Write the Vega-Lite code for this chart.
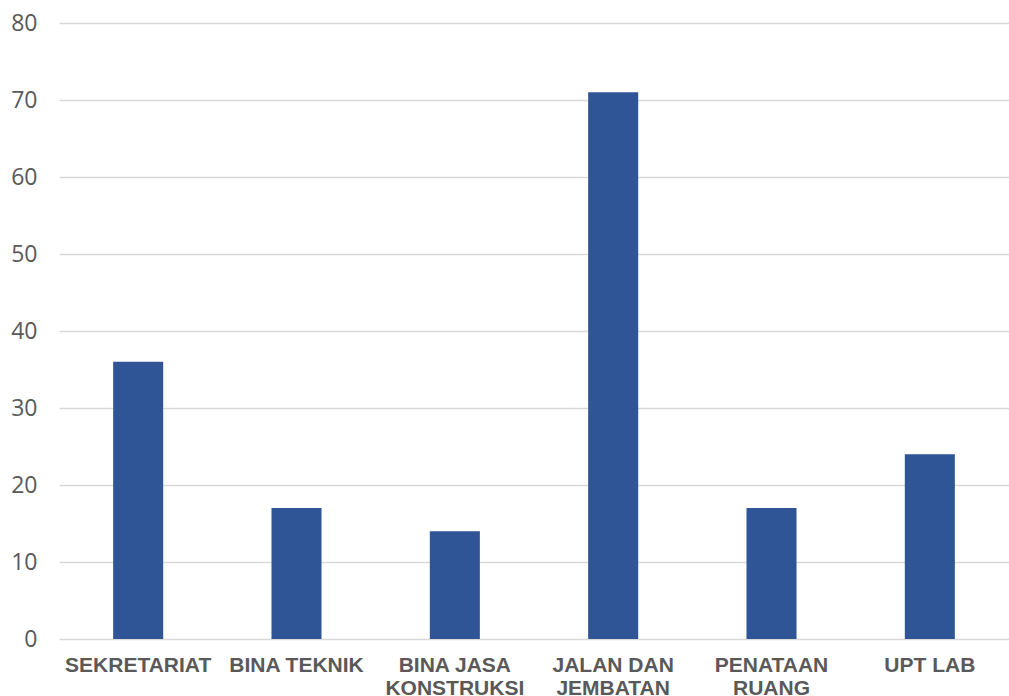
{
  "$schema": "https://vega.github.io/schema/vega-lite/v6.json",
  "width": 950,
  "height": 616,
  "autosize": {"type": "none"},
  "padding": {"left": 59, "top": 23, "right": 0, "bottom": 57},
  "background": "white",
  "config": {"view": {"stroke": null}},
  "data": {
    "values": [
      {"kategori": "SEKRETARIAT", "nilai": 36},
      {"kategori": "BINA TEKNIK", "nilai": 17},
      {"kategori": "BINA JASA|KONSTRUKSI", "nilai": 14},
      {"kategori": "JALAN DAN|JEMBATAN", "nilai": 71},
      {"kategori": "PENATAAN|RUANG", "nilai": 17},
      {"kategori": "UPT LAB", "nilai": 24}
    ]
  },
  "mark": {"type": "bar", "color": "#2F5597"},
  "encoding": {
    "x": {
      "field": "kategori",
      "type": "nominal",
      "sort": null,
      "title": null,
      "scale": {"paddingInner": 0.684, "paddingOuter": 0.342},
      "axis": {
        "labelExpr": "split(datum.value, '|')",
        "labelAngle": 0,
        "labelFont": "Liberation Sans",
        "labelFontWeight": "bold",
        "labelFontSize": 21,
        "labelColor": "#595959",
        "labelLineHeight": 23,
        "labelPadding": 15,
        "labelBaseline": "top",
        "labelOverlap": false,
        "ticks": false,
        "domain": false,
        "grid": false
      }
    },
    "y": {
      "field": "nilai",
      "type": "quantitative",
      "title": null,
      "scale": {"domain": [0, 80], "nice": false},
      "axis": {
        "values": [0, 10, 20, 30, 40, 50, 60, 70, 80],
        "labelFont": "Open Sans",
        "labelFontSize": 23,
        "labelColor": "#595959",
        "labelPadding": 22,
        "ticks": false,
        "domain": false,
        "grid": true,
        "gridColor": "#D9D9D9",
        "gridWidth": 1.5
      }
    }
  }
}
